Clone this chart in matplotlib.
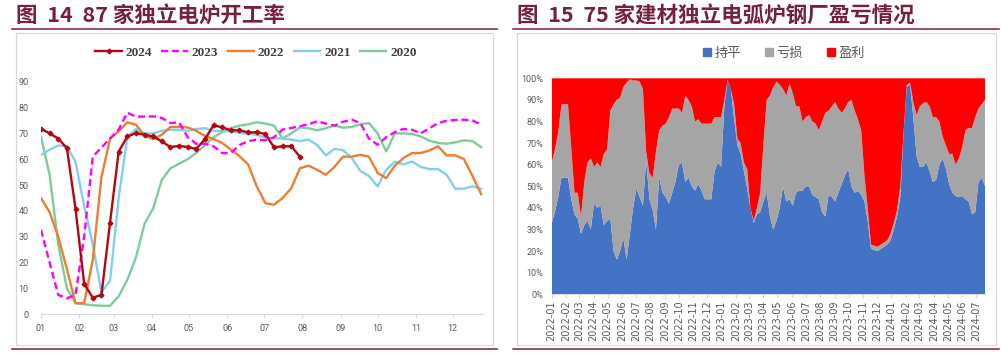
import matplotlib
matplotlib.use("Agg")
import matplotlib.pyplot as plt
import matplotlib.dates as mdates
from matplotlib.lines import Line2D
from matplotlib.patches import Rectangle, Patch
import numpy as np
import pandas as pd

# ---------------- data: left chart (87 independent EAF operating rate, %) ----------------
month_labels = ["01", "02", "03", "04", "05", "06", "07", "08", "09", "10", "11", "12"]
month_start_day = [0, 31, 59, 90, 120, 151, 181, 212, 243, 273, 304, 334]
week_day = list(range(0, 358, 7))  # weekly observation days of year (52 weeks)

y2024 = [71.8, 70.0, 68.0, 64.3, 40.8, 11.8, 6.4, 7.5, 35.5, 62.9, 68.8, 70.1, 69.5, 68.8,
         66.9, 64.7, 65.2, 64.7, 64.0, 67.8, 73.2, 72.3, 71.2, 71.2, 70.4, 70.4, 69.8, 64.6,
         65.0, 65.0, 61.0]
y2023 = [32.7, 20, 7.5, 6.2, 7.5, 30, 61, 64.5, 68, 71.5, 78, 76.5, 76.5, 76.6, 76, 74, 74.3,
         68.5, 66, 66, 65, 62.4, 62.4, 65.5, 67, 67.6, 67.3, 68.5, 71.5, 72.1, 72.8, 73.5,
         74.7, 73.8, 73, 74.5, 75.3, 74, 68, 65.6, 68.5, 70.5, 71.7, 71.4, 70, 72, 74, 74.9,
         75.2, 75.3, 75, 73.4]
y2022 = [45, 39.5, 30, 17.5, 4.3, 4.3, 21, 53, 68, 70.8, 74.3, 73.4, 69, 67.8, 69.5, 72.5,
         72.5, 72.3, 71, 69, 67.8, 66.3, 63.7, 61.2, 58, 49.5, 43, 42.4, 45, 48.8, 56.5, 57.5,
         55.9, 54, 57, 61, 61, 61.7, 61, 54.7, 52.7, 57.5, 60.5, 62.4, 62.4, 63.4, 65, 61.5,
         61.5, 60.1, 53.5, 46.5]
y2021 = [61.7, 63.7, 65.3, 65, 59, 42, 27, 8.5, 13, 45, 68.5, 71.7, 70, 70, 71, 71.4, 71.4,
         71, 71.7, 72, 71, 70.8, 70.8, 70.2, 69.8, 69.5, 68.2, 68.2, 68, 67.6, 67, 67.6, 65.5,
         61.5, 64, 63.5, 60.5, 55.5, 53.5, 49.5, 55.9, 59.1, 58, 59.1, 57, 56.2, 56.2, 54,
         48.6, 48.6, 49.5, 48.6]
y2020 = [68.8, 54, 27, 10, 4.3, 3.9, 3.5, 3.3, 3.3, 7, 13.3, 22, 35, 41, 52, 56.5, 58.3, 60,
         62.5, 65.5, 68.5, 70.5, 72, 73, 73.5, 74.3, 73.8, 73, 68, 70, 72.3, 72, 71.2, 72, 73,
         72.2, 72.5, 73.5, 74, 70, 63, 70, 70, 69.8, 68.8, 67.2, 66.3, 66, 66.5, 67.3, 67, 64.7]

# ---------------- data: right chart (75 building-material EAF mills, share %) ----------------
week_dates = pd.date_range("2022-01-01", periods=134, freq="7D")
flat_pct = [33, 38, 45, 54, 54, 54, 44, 37, 35, 28,
            32, 34, 30, 42, 40, 41, 32, 34, 35, 20,
            16, 20, 26, 16, 28, 40, 49, 45, 41, 62,
            44, 39, 30, 54, 47, 45, 42, 47, 52, 60,
            61, 52, 54, 50, 48, 51, 48, 44, 44, 44,
            57, 61, 59, 87, 99.5, 95, 81, 69, 65, 57,
            49, 40, 33, 37, 38, 43, 47, 36, 30, 34,
            40, 50, 43, 44, 41, 47, 48, 48, 50, 50,
            46, 45, 44, 38, 36, 46, 45, 43, 47, 51,
            55, 58, 50, 47, 48, 46, 43, 34, 21, 20.5,
            20, 21, 22, 23, 25, 30, 36, 45, 75, 96,
            97, 82, 64, 59, 59, 61, 57, 52, 53, 60,
            63, 58, 51, 47, 45.5, 45, 45.5, 44, 43, 37,
            38, 52, 54, 50]
loss_pct = [28, 29, 30, 34, 34, 34, 24, 10, 12, 8,
            20, 27, 33, 17, 21, 18, 33, 33, 50, 68,
            74, 71, 70, 82, 71.5, 59, 50, 53.5, 54, 4,
            12, 15, 36, 22, 31, 34, 40, 39, 34, 26,
            23, 40, 36, 37, 32, 30, 31, 35, 35, 35,
            25, 21, 23, 3, 0, 0, 7, 3, 5, 4,
            9, 0, 1, 3, 9, 27, 43, 56, 66, 64.5,
            57, 45, 49, 53.5, 52, 40, 39, 32, 32, 33,
            34, 34, 32, 42, 48, 39, 42, 46, 39, 33,
            31, 31, 40, 38, 33, 30, 12, 6, 2, 2,
            2, 2, 2, 2, 3, 3, 3, 5, 0, 1,
            1, 7, 19, 28, 29.5, 28, 30, 30, 29, 20,
            10, 11, 14, 18, 14.5, 18, 22.5, 32, 34, 40,
            44, 34, 34, 40]
profit_pct = [100 - a - b for a, b in zip(flat_pct, loss_pct)]

# ---------------- figure ----------------
W, H = 1007, 354
fig = plt.figure(figsize=(W / 100, H / 100), dpi=100)
fig.patch.set_facecolor("white")

CJK = ["Noto Sans CJK SC", "DejaVu Sans"]
TITLE_C = "#76203F"
TICK_C = "#595959"
AX_C = "#D9D9D9"


def px(x, y):
    return x / W, 1 - y / H


def frame(x0, x1, bx0, bx1, title, tx):
    fig.text(*px(tx, 16), title, fontsize=15.5, fontweight="bold", color=TITLE_C,
             family=CJK, va="center", ha="left")
    for yy in (29, 348.5):
        fig.add_artist(Line2D([x0 / W, x1 / W], [1 - yy / H] * 2, color=TITLE_C, lw=1.1))
    fig.add_artist(Rectangle(px(bx0, 345), (bx1 - bx0) / W, (345 - 33) / H, fill=False,
                             ec=AX_C, lw=0.9))


frame(12, 497, 15.5, 493, "图  14  87 家独立电炉开工率", 16)
frame(513, 999, 517, 996, "图  15  75 家建材独立电弧炉钢厂盈亏情况", 517)

# ---------------- left chart ----------------
ax1 = fig.add_axes([41 / W, 1 - 314.3 / H, (483 - 41) / W, (314.3 - 81.7) / H])
ax1.set_xlim(0, 358.5)
ax1.set_ylim(0, 90)
lw = 1.7
l2020, = ax1.plot(week_day, y2020, color="#7DCC9D", lw=lw, label="2020")
l2021, = ax1.plot(week_day, y2021, color="#80CFF0", lw=lw, label="2021")
l2022, = ax1.plot(week_day, y2022, color="#ED7D31", lw=lw, label="2022")
l2023, = ax1.plot(week_day, y2023, color="#FF00FF", lw=lw, ls=(0, (3, 1.6)), label="2023")
l2024, = ax1.plot(week_day[:len(y2024)], y2024, color="#B3070F", lw=lw, marker="D",
                  ms=2.4, label="2024")
for s in ("top", "right", "left"):
    ax1.spines[s].set_visible(False)
ax1.spines["bottom"].set_color(AX_C)
ax1.set_xticks(month_start_day)
ax1.set_xticklabels(month_labels)
ax1.set_yticks(range(0, 91, 10))
ax1.tick_params(axis="x", length=3, color=AX_C, pad=4, labelsize=6.5, labelcolor=TICK_C)
ax1.tick_params(axis="y", length=0, pad=9, labelsize=6.5, labelcolor=TICK_C)
for t in ax1.get_xticklabels() + ax1.get_yticklabels():
    t.set_family("Roboto")
ax1.legend(handles=[l2024, l2023, l2022, l2021, l2020], ncol=5, loc="center",
           bbox_to_anchor=px(256, 53), bbox_transform=fig.transFigure, frameon=False,
           prop={"family": "Liberation Serif", "weight": "bold", "size": 9.5},
           handlelength=2.0, handletextpad=0.3, columnspacing=0.7, labelcolor="#404040")

# ---------------- right chart ----------------
ax2 = fig.add_axes([551.7 / W, 1 - 294.3 / H, (985 - 551.7) / W, 216 / H])
ax2.stackplot(week_dates, flat_pct, loss_pct, profit_pct,
              colors=["#4472C4", "#A5A5A5", "#FF0000"], lw=0)
ax2.set_xlim(week_dates[0], week_dates[-1])
ax2.set_ylim(0, 100)
for s in ("top", "right", "left"):
    ax2.spines[s].set_visible(False)
ax2.spines["bottom"].set_color(AX_C)
ax2.spines["bottom"].set_zorder(5)
ax2.xaxis.set_major_locator(mdates.MonthLocator())
ax2.xaxis.set_major_formatter(mdates.DateFormatter("%Y-%m"))
ax2.set_yticks(range(0, 101, 10))
ax2.set_yticklabels([f"{v}%" for v in range(0, 101, 10)])
ax2.tick_params(axis="x", length=3, color=AX_C, pad=1.5, labelsize=7, labelcolor=TICK_C,
                rotation=90)
ax2.tick_params(axis="y", length=0, pad=6, labelsize=6.5, labelcolor=TICK_C)
for t in ax2.get_yticklabels():
    t.set_family("Roboto")
handles = [Patch(color="#4472C4"), Patch(color="#A5A5A5"), Patch(color="#FF0000")]
ax2.legend(handles, ["持平", "亏损", "盈利"], ncol=3, loc="center",
           bbox_to_anchor=px(784, 53), bbox_transform=fig.transFigure, frameon=False,
           prop={"family": CJK, "size": 9.5}, handlelength=0.6, handleheight=0.6,
           handletextpad=0.3, columnspacing=1.8, labelcolor=TICK_C)

fig.savefig("out.png", dpi=100, facecolor="white")
